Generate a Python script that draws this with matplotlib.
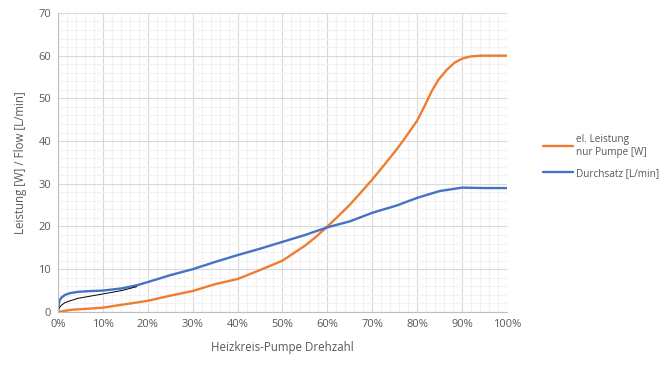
import matplotlib.pyplot as plt
from matplotlib.ticker import FuncFormatter, MultipleLocator

# Heizkreis-Pumpe Drehzahl (Anteil)
drehzahl_leistung = [0.0, 0.03, 0.06, 0.10, 0.15, 0.20, 0.25, 0.30, 0.35, 0.40, 0.45,
                     0.50, 0.55, 0.575, 0.60, 0.625, 0.65, 0.675, 0.70, 0.725, 0.754,
                     0.775, 0.80, 0.818, 0.832, 0.847, 0.866, 0.884, 0.90, 0.918,
                     0.94, 0.97, 1.0]
leistung = [0.0, 0.5, 0.7, 1.0, 1.8, 2.6, 3.8, 4.9, 6.5, 7.7, 9.8,
            12.0, 15.5, 17.6, 20.0, 22.5, 25.1, 28.0, 31.0, 34.2, 38.0,
            41.0, 44.8, 48.5, 51.6, 54.3, 56.7, 58.4, 59.3, 59.8,
            60.0, 60.0, 60.0]

drehzahl_durchsatz = [0.0, 0.002, 0.004, 0.008, 0.016, 0.027, 0.045, 0.067, 0.10, 0.142,
                      0.178, 0.216, 0.25, 0.30, 0.35, 0.40, 0.45, 0.50, 0.55, 0.60,
                      0.65, 0.70, 0.754, 0.80, 0.85, 0.90, 0.95, 1.0]
durchsatz = [0.0, 2.0, 2.8, 3.4, 4.0, 4.4, 4.7, 4.85, 5.0, 5.5,
             6.3, 7.5, 8.6, 10.0, 11.7, 13.3, 14.8, 16.4, 18.0, 19.8,
             21.2, 23.2, 24.9, 26.7, 28.3, 29.1, 29.0, 29.0]

# duenne schwarze Linie am Anfang
drehzahl_schwarz = [0.0, 0.002, 0.008, 0.016, 0.027, 0.045, 0.067, 0.10, 0.142, 0.175]
schwarz = [0.0, 0.9, 1.6, 2.2, 2.6, 3.2, 3.6, 4.2, 5.0, 5.9]

grey = "#595959"
plt.rcParams["font.family"] = ["Open Sans", "DejaVu Sans"]

fig = plt.figure(figsize=(6.7, 3.7), dpi=100)
ax = fig.add_axes([0.0866, 0.157, 0.670, 0.808])

ax.plot(drehzahl_leistung, leistung, color="#ED7D31", linewidth=1.7,
        label="el. Leistung\nnur Pumpe [W]", solid_capstyle="round")
ax.plot(drehzahl_durchsatz, durchsatz, color="#4472C4", linewidth=1.7,
        label="Durchsatz [L/min]", solid_capstyle="round")
ax.plot(drehzahl_schwarz, schwarz, color="black", linewidth=0.7)

ax.set_xlim(0, 1)
ax.set_ylim(0, 70)
ax.xaxis.set_major_locator(MultipleLocator(0.1))
ax.xaxis.set_minor_locator(MultipleLocator(0.02))
ax.yaxis.set_major_locator(MultipleLocator(10))
ax.yaxis.set_minor_locator(MultipleLocator(2))
ax.xaxis.set_major_formatter(FuncFormatter(lambda x, _: f"{x * 100:.0f}%"))
ax.grid(which="major", color="#D9D9D9", linewidth=0.8)
ax.grid(which="minor", color="#F2F2F2", linewidth=0.8)
ax.set_axisbelow(True)
for side in ["top", "right"]:
    ax.spines[side].set_visible(False)
ax.spines["left"].set_color("#BFBFBF")
ax.spines["bottom"].set_color("#BFBFBF")
ax.tick_params(which="both", length=0, labelsize=8, labelcolor=grey, pad=5)

ax.set_xlabel("Heizkreis-Pumpe Drehzahl", fontsize=8.3, color=grey, labelpad=8)
ax.set_ylabel("Leistung [W] / Flow [L/min]", fontsize=8.3, color=grey, labelpad=8)

leg = ax.legend(loc="center left", bbox_to_anchor=(1.06, 0.52), frameon=False,
                fontsize=7.2, handlelength=3.0, handletextpad=0.3, labelspacing=1.0)
for t in leg.get_texts():
    t.set_color(grey)

fig.savefig("out.png", dpi=100)
